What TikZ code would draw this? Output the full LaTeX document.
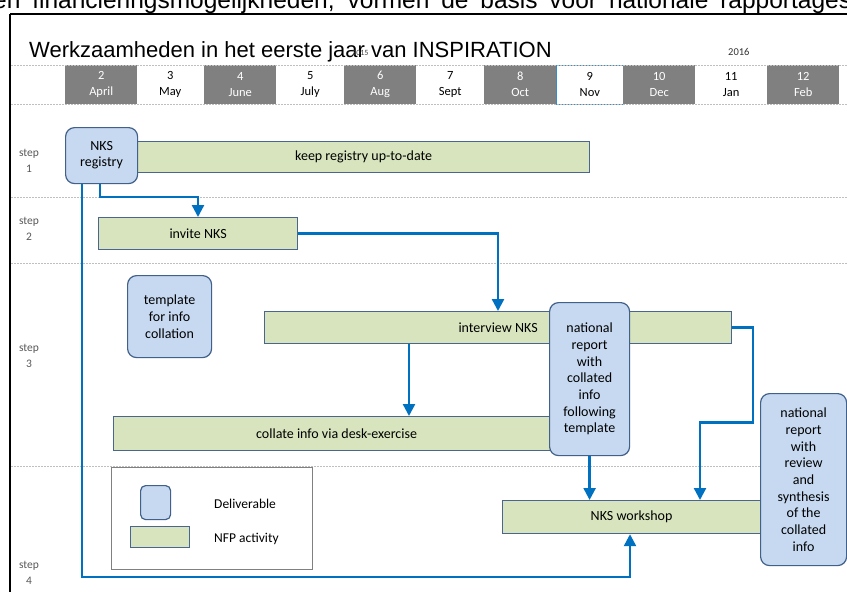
\documentclass[tikz,border=0pt]{standalone}
\usepackage{fontspec}
\setmainfont{Carlito}
\newfontfamily\arialf{Liberation Sans}
\usetikzlibrary{arrows.meta,calc}
\definecolor{hdrgray}{HTML}{808080}
\definecolor{delivfill}{HTML}{C6D9F1}
\definecolor{delivdraw}{HTML}{41608A}
\definecolor{actfill}{HTML}{D7E4BD}
\definecolor{actdraw}{HTML}{4A6590}
\definecolor{connblue}{HTML}{0070C0}
\definecolor{sepgray}{HTML}{BFBFBF}
\definecolor{steptext}{HTML}{595959}
\begin{document}
\begin{tikzpicture}[x=1pt,y=-1pt,
  deliv/.style={draw=delivdraw, fill=delivfill, line width=1.2pt, rounded corners=9pt,
    anchor=north west, inner sep=0pt, align=center, font=\fontsize{14}{16.7}\selectfont},
  act/.style={draw=actdraw, fill=actfill, line width=1.2pt, anchor=north west,
    inner sep=0pt, font=\fontsize{14}{16}\selectfont},
  conn/.style={draw=connblue, line width=2.4pt, -{Triangle[length=12pt,width=12pt]}},
  sepline/.style={draw=sepgray, line width=0.8pt, dash pattern=on 2pt off 1pt},
  steplbl/.style={text=steptext, align=center, font=\fontsize{11.5}{16}\selectfont},
  hdrcell/.style={anchor=north west, inner sep=0pt, minimum height=39pt, align=center,
    font=\fontsize{12.5}{16}\selectfont},
  hdrgraycell/.style={hdrcell, fill=hdrgray, text=white},
  hdrwhitecell/.style={hdrcell, fill=white, text=black},
]
\useasboundingbox (0,0) rectangle (847,592);
\clip (0,0) rectangle (847,592);
\fill[white] (0,0) rectangle (847,592);

% clipped page text above
\node[anchor=base west, inner sep=0pt, font=\arialf\fontsize{24.5}{28}\selectfont] (pagetext) at (-7,8)
  {\makebox[858pt][s]{en financieringsmogelijkheden, vormen de basis voor nationale rapportages}};

% frame of the embedded picture
\draw[black, line width=2pt] (10,14) -- (847,14);
\draw[black, line width=2pt] (10,14) -- (10,592);

% title
\node[anchor=base west, inner sep=0pt, font=\arialf\fontsize{22}{24}\selectfont] (title) at (29,57)
  {Werkzaamheden in het eerste jaar van INSPIRATION};
\node[anchor=base west, inner sep=0pt, text=black!75, font=\fontsize{8}{9}\selectfont] (y2015) at (352,55) {2015};
\node[anchor=base west, inner sep=0pt, text=black!80, font=\fontsize{10.5}{11}\selectfont] (y2016) at (728,55) {2016};

% header row
\node[hdrwhitecell, minimum width=54pt] (h1) at (11,65) {};
\node[hdrgraycell, minimum width=72pt] (h2) at (65,65) {2\\April};
\node[hdrwhitecell, minimum width=66pt] (h3) at (137,65) {3\\May};
\node[hdrgraycell, minimum width=72pt] (h4) at (204,65) {4\\June};
\node[hdrwhitecell, minimum width=68pt] (h5) at (276,65) {5\\July};
\node[hdrgraycell, minimum width=72pt] (h6) at (344,65) {6\\Aug};
\node[hdrwhitecell, minimum width=68pt] (h7) at (416,65) {7\\Sept};
\node[hdrgraycell, minimum width=72pt] (h8) at (484,65) {8\\Oct};
\node[hdrwhitecell, minimum width=67pt, draw=connblue!80, line width=0.6pt] (h9) at (556,65) {9\\Nov};
\node[hdrgraycell, minimum width=72pt] (h10) at (623,65) {10\\Dec};
\node[hdrwhitecell, minimum width=72pt] (h11) at (695,65) {11\\Jan};
\node[hdrgraycell, minimum width=72pt] (h12) at (767,65) {12\\Feb};

% separators
\draw[sepline] (11,65) -- (847,65);
\draw[sepline] (11,104) -- (847,104);
\draw[sepline] (11,197) -- (847,197);
\draw[sepline] (11,263) -- (847,263);
\draw[sepline] (11,466) -- (847,466);

% step labels
\node[steplbl] (s1) at (29,161) {step\\1};
\node[steplbl] (s2) at (29,229) {step\\2};
\node[steplbl] (s3) at (29,356) {step\\3};
\node[steplbl] (s4) at (29,573) {step\\4};

% activities
\node[act, minimum width=452pt, minimum height=31pt] (keep) at (137,141) {keep registry up-to-date};
\node[act, minimum width=199pt, minimum height=32pt] (inv) at (98,217) {invite NKS};
\node[act, minimum width=467pt, minimum height=32pt] (int) at (264,311) {interview NKS};
\node[act, minimum width=446pt, minimum height=34pt] (col) at (113,416) {collate info via desk-exercise};
\node[act, minimum width=258pt, minimum height=33pt] (ws) at (502,500) {NKS workshop};

% deliverables
\node[deliv, minimum width=72pt, minimum height=56pt, font=\fontsize{14}{16}\selectfont] (reg) at (65,127) {NKS\\registry};
\node[deliv, minimum width=84pt, minimum height=82pt] (tpl) at (127,275) {template\\for info\\collation};
\node[deliv, minimum width=80pt, minimum height=153pt] (nr) at (549,302) {national\\report\\with\\collated\\info\\following\\template};
\node[deliv, minimum width=86pt, minimum height=172pt] (nrs) at (760,393) {national\\report\\with\\review\\and\\synthesis\\of the\\collated\\info};

% legend
\node[draw=black!50, line width=1pt, anchor=north west, minimum width=201pt, minimum height=102pt, inner sep=0pt] (leg) at (111,467) {};
\node[draw=delivdraw, fill=delivfill, line width=1.2pt, rounded corners=5pt, anchor=north west,
  minimum width=30pt, minimum height=34pt, inner sep=0pt] (legd) at (140,485) {};
\node[draw=actdraw, fill=actfill, line width=1.2pt, anchor=north west,
  minimum width=59pt, minimum height=21pt, inner sep=0pt] (lega) at (130,526) {};
\node[anchor=base west, inner sep=0pt, font=\fontsize{13.5}{15}\selectfont] (legdt) at (214,508) {Deliverable};
\node[anchor=base west, inner sep=0pt, font=\fontsize{13.5}{15}\selectfont] (legat) at (214,542) {NFP activity};

% connectors
\coordinate (r1) at ([xshift=35pt]reg.south west);
\coordinate (r2) at ([xshift=17pt]reg.south west);
\coordinate (i1) at ([xshift=100pt]inv.north west);
\coordinate (n1) at ([xshift=234pt]int.north west);
\coordinate (n2) at ([xshift=145pt]int.south west);
\coordinate (w1) at ([xshift=128pt]ws.south west);
\coordinate (w2) at ([xshift=198pt]ws.north west);

\draw[conn] (r1) -- ++(0,13) -| (i1);
\draw[conn] (r2) -- ++(0,393) -| (w1);
\draw[conn] (inv.east) -| (n1);
\draw[conn] (n2) -- (n2 |- col.north);
\draw[conn] (nr.south) -- (nr.south |- ws.north);
\draw[conn] (int.east) -- ++(21,0) -- ++(0,95) -| (w2);
\end{tikzpicture}
\end{document}
